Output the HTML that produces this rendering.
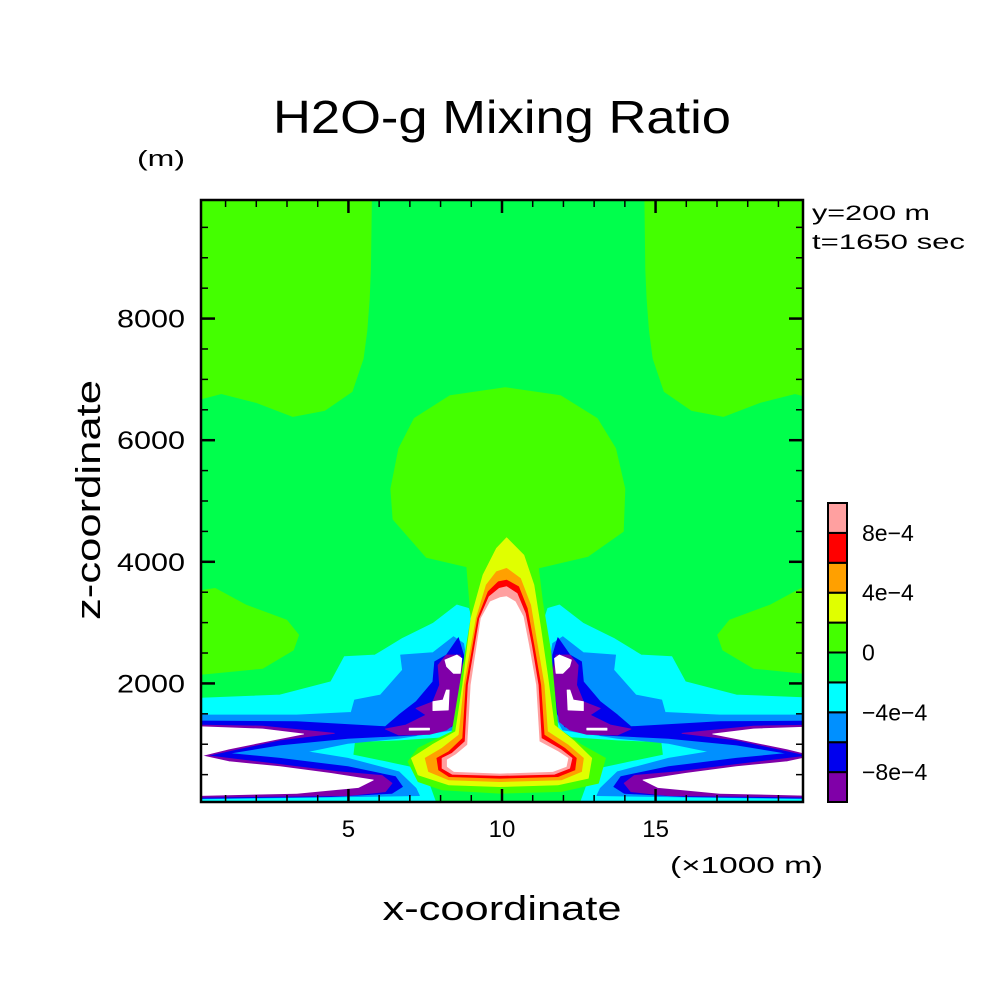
<!DOCTYPE html>
<html><head><meta charset="utf-8">
<style>
html,body{margin:0;padding:0;background:#fff;}
svg{display:block;}
text{font-family:"Liberation Sans",sans-serif;fill:#000;}
</style></head>
<body>
<svg id="chart" width="1004" height="1004" viewBox="0 0 1004 1004">
<defs><clipPath id="plotclip"><rect x="201" y="200" width="602" height="602"/></clipPath></defs>
<text x="502" y="133" font-size="46" text-anchor="middle" textLength="458" lengthAdjust="spacingAndGlyphs">H2O-g Mixing Ratio</text>
<text x="137" y="166" font-size="22" textLength="48" lengthAdjust="spacingAndGlyphs">(m)</text>
<text x="812" y="220" font-size="21" textLength="118" lengthAdjust="spacingAndGlyphs">y=200 m</text>
<text x="812" y="249" font-size="21" textLength="153" lengthAdjust="spacingAndGlyphs">t=1650 sec</text>
<text transform="translate(100,500) rotate(-90)" font-size="34" text-anchor="middle" textLength="240" lengthAdjust="spacingAndGlyphs">z-coordinate</text>
<text x="502" y="920" font-size="34" text-anchor="middle" textLength="239" lengthAdjust="spacingAndGlyphs">x-coordinate</text>
<text x="670" y="873" font-size="23" textLength="153" lengthAdjust="spacingAndGlyphs">(×1000 m)</text>
<g id="field" clip-path="url(#plotclip)"></g>
<g id="axes"></g>
<g id="cbar"></g>
</svg>
<script>
// ---- data ----
const levelColors = ["#8000a8","#0000ee","#0090ff","#00ffff","#00ff4c","#44ff00","#e0ff00","#ffa000","#ff0000","#ffa0a0"];
const levelLabels = ["−8e−4","−4e−4","0","4e−4","8e−4"];
const levelLabelIdx = [1,3,5,7,9];
const xMajorTicks = [5,10,15];
const xMinorTicks = [1,2,3,4,6,7,8,9,11,12,13,14,16,17,18,19];
const yMajorTicks = [2000,4000,6000,8000];
const yMinorTicks = [500,1000,1500,2500,3000,3500,4500,5000,5500,6500,7000,7500,8500,9000,9500];
const mirrorAxis = 10.2;
// regions [x km, z m]; colour index (-1 = white/out of range); mirror flag
const tlCorner = [[0,9970],[5.75,9970],[5.72,8800],[5.68,8328],[5.6,7800],[5.48,7342],[5.12,6800],[4.22,6488],[3.19,6390],[2.0,6620],[0.86,6767],[0,6652]];
const sideBlob = [[0,3508],[0.66,3563],[1.66,3289],[2.99,3042],[3.38,2796],[3.21,2549],[2.21,2248],[0,2138]];
const mushroom = [[6.45,4700],[6.38,5200],[6.64,5863],[7.14,6356],[8.31,6734],[10.1,6865],[11.9,6734],[13.1,6356],[13.7,5863],[14.0,5200],[13.95,4500],[12.8,4090],[11.2,3900],[9.0,3900],[7.54,4073]];
const cyanWing = [[0,1754],[2.77,1809],[4.43,2028],[4.87,2439],[5.87,2467],[6.76,2741],[7.75,2987],[8.53,3289],[8.91,3234],[9.19,2796],[9.03,2248],[8.86,1754],[8.75,1316],[8.19,1124],[6.64,1069],[5.2,1042],[5.15,823],[6.2,713],[7.2,604],[7.64,330],[7.86,20],[0,20]];
const azureWing = [[0,1480],[3.32,1480],[5.09,1524],[5.2,1727],[6.04,1809],[6.76,2220],[6.7,2467],[7.75,2505],[8.42,2768],[8.75,2659],[8.86,2302],[8.8,1864],[8.69,1480],[8.42,1234],[6.64,1097],[4.98,1015],[3.65,878],[4.98,768],[6.64,549],[7.2,275],[7.31,155],[0,100]];
const blueWing = [[0,1382],[3.32,1371],[6.2,1289],[6.64,1480],[7.2,1699],[7.75,2028],[7.81,2357],[8.19,2467],[8.58,2752],[8.75,2467],[8.75,1864],[8.64,1535],[8.36,1289],[7.2,1152],[4.98,1097],[2.77,987],[1.11,850],[2.77,768],[4.98,631],[6.53,467],[6.76,302],[6.42,193],[4.43,138],[0,110]];
const purpleTongue = [[0,1316],[2.21,1299],[4.54,1179],[2.77,1069],[0.39,812],[2.21,702],[4.65,549],[6.09,485],[6.42,359],[6.2,220],[4.98,155],[0,127]];
const purpleWing = [[6.2,1250],[6.87,1316],[7.53,1480],[7.2,1590],[7.75,1699],[7.97,1974],[7.92,2302],[8.19,2467],[8.64,2467],[8.75,2193],[8.64,1754],[8.53,1371],[8.19,1234],[7.64,1163],[6.64,1152]];
const whiteLobes = [[0,1290],[2.21,1250],[3.54,1168],[2.55,1069],[1.11,921],[0.22,812],[1.11,713],[2.77,631],[4.43,521],[5.81,412],[5.32,288],[3.32,193],[0,155]];
const whiteSpotA = [[8.14,2385],[8.53,2467],[8.69,2412],[8.64,2166],[8.42,2166],[8.2,2276]];
const whiteSpotB = [[7.75,1699],[8.08,1727],[8.19,1892],[8.28,1892],[8.25,1563],[7.75,1553]];
const whiteSlit = [[6.98,1265],[7.64,1265],[7.64,1234],[6.98,1230]];
const plumeLgreen = [[8.83,4056],[8.99,3070],[8.72,2248],[8.38,1208],[7.27,934],[6.94,715],[7.27,386],[8.05,249],[9.93,195],[11.93,222],[13.14,359],[13.37,770],[12.59,989],[11.82,1263],[11.59,2522],[11.32,3344],[11.15,4056]];
const plumeYellow = [[10.15,4395],[10.71,4111],[11.04,3618],[11.26,2906],[11.48,2139],[11.7,1317],[12.37,1043],[12.92,770],[12.81,441],[11.82,331],[9.93,304],[8.27,331],[7.27,496],[7.05,770],[7.72,989],[8.49,1208],[8.72,1975],[8.99,3070],[9.38,3782],[9.82,4220]];
const plumeOrange = [[10.15,3891],[10.6,3727],[10.93,3289],[11.15,2632],[11.37,1975],[11.48,1208],[12.15,989],[12.65,770],[12.59,551],[11.93,414],[9.93,386],[8.27,414],[7.61,551],[7.5,770],[8.05,934],[8.6,1153],[8.77,1975],[9.16,3070],[9.49,3618],[9.82,3837]];
const plumeRed = [[10.15,3700],[10.54,3590],[10.82,3234],[11.04,2632],[11.26,1975],[11.37,1153],[12.04,934],[12.42,770],[12.37,578],[11.82,468],[9.93,441],[8.27,468],[7.94,578],[7.88,770],[8.27,879],[8.72,1098],[8.83,1975],[9.21,3070],[9.55,3508],[9.88,3672]];
const plumePink = [[10.15,3590],[10.49,3481],[10.76,3152],[10.96,2632],[11.18,1975],[11.28,1098],[11.93,907],[12.28,770],[12.2,605],[11.7,507],[9.93,485],[8.38,507],[8.05,605],[8.05,770],[8.38,852],[8.8,1043],[8.9,1975],[9.27,3070],[9.58,3426],[9.91,3563]];
const plumeWhite = [[10.15,3426],[10.43,3344],[10.69,3097],[10.87,2632],[11.1,1975],[11.21,1043],[11.82,879],[12.15,770],[12.09,633],[11.65,551],[9.93,523],[8.44,551],[8.22,633],[8.22,742],[8.49,825],[8.88,989],[8.99,1975],[9.32,3070],[9.62,3344],[9.93,3410]];
const regions = [
  ["top-corner-zone", tlCorner, 5, true],
  ["side-positive-zone", sideBlob, 5, true],
  ["mushroom-zone", mushroom, 5, false],
  ["cyan-wing", cyanWing, 3, true],
  ["azure-wing", azureWing, 2, true],
  ["blue-wing", blueWing, 1, true],
  ["purple-tongue", purpleTongue, 0, true],
  ["purple-wing", purpleWing, 0, true],
  ["low-minimum-lobes", whiteLobes, -1, true],
  ["minimum-spot-a", whiteSpotA, -1, true],
  ["minimum-spot-b", whiteSpotB, -1, true],
  ["minimum-slit", whiteSlit, -1, true],
  ["plume-lightgreen", plumeLgreen, 5, false],
  ["plume-yellow", plumeYellow, 6, false],
  ["plume-orange", plumeOrange, 7, false],
  ["plume-red", plumeRed, 8, false],
  ["plume-pink", plumePink, 9, false],
  ["plume-core", plumeWhite, -1, false]
];
// ---- scales ----
const X0=201, X1=803, Y0=802, Y1=200;
const xDom=[0.2,19.8], zDom=[50,9950];
function sx(x){return X0+(x-xDom[0])/(xDom[1]-xDom[0])*(X1-X0);}
function sy(z){return Y0-(z-zDom[0])/(zDom[1]-zDom[0])*(Y0-Y1);}
const NS="http://www.w3.org/2000/svg";
function mk(tag,attrs,parent){const e=document.createElementNS(NS,tag);for(const k in attrs)e.setAttribute(k,attrs[k]);parent.appendChild(e);return e;}
const field=document.getElementById('field');
const bg=mk('rect',{x:X0,y:Y1,width:X1-X0,height:Y0-Y1,fill:levelColors[4]},field);


function colorOf(i){return i<0?"#ffffff":levelColors[i];}
regions.forEach(r=>{
  const pts=r[1];
  const draw=(mir)=>{
    const d=pts.map((p,i)=>(i?'L':'M')+sx(mir?2*mirrorAxis-p[0]:p[0]).toFixed(1)+' '+sy(p[1]).toFixed(1)).join(' ')+'Z';
    const e=mk('path',{d:d,fill:colorOf(r[2]),stroke:colorOf(r[2]),'stroke-width':0.8,'stroke-linejoin':'round'},field);
    
    
  };
  draw(false); if(r[3]) draw(true);
});
// ---- axes ----
const ax=document.getElementById('axes');
const frame=mk('rect',{x:X0,y:Y1,width:X1-X0,height:Y0-Y1,fill:'none',stroke:'#000','stroke-width':2.5},ax);


function tick(x1,y1,x2,y2,w){const t=mk('line',{x1:x1,y1:y1,x2:x2,y2:y2,stroke:'#000','stroke-width':w},ax);

}
xMinorTicks.forEach(v=>{const x=sx(v);tick(x,Y0,x,Y0-7,1.5);tick(x,Y1,x,Y1+7,1.5);});
xMajorTicks.forEach(v=>{const x=sx(v);tick(x,Y0,x,Y0-13,2.5);tick(x,Y1,x,Y1+13,2.5);
  const t=mk('text',{x:x,y:837,'font-size':24,'text-anchor':'middle'},ax);t.textContent=String(v);
  
  });
yMinorTicks.forEach(v=>{const y=sy(v);tick(X0,y,X0+7,y,1.5);tick(X1,y,X1-7,y,1.5);});
yMajorTicks.forEach(v=>{const y=sy(v);tick(X0,y,X0+14,y,2.5);tick(X1,y,X1-14,y,2.5);
  const t=mk('text',{x:185,y:y+9,'font-size':25,'text-anchor':'end',textLength:68,lengthAdjust:'spacingAndGlyphs'},ax);t.textContent=String(v);
  
  });
// ---- colorbar ----
const cb=document.getElementById('cbar');
const CBX=828, CBW=19, CBTOP=503, CBBOT=802, n=levelColors.length, h=(CBBOT-CBTOP)/n;
levelColors.forEach((c,i)=>{
  const r=mk('rect',{x:CBX,y:CBBOT-(i+1)*h,width:CBW,height:h,fill:c,stroke:'#000','stroke-width':2},cb);
  
  
});
levelLabels.forEach((lab,k)=>{
  const y=CBBOT-levelLabelIdx[k]*h;
  const t=mk('text',{x:862,y:y+8,'font-size':23},cb);t.textContent=lab;
  
  
});
</script>
</body></html>
